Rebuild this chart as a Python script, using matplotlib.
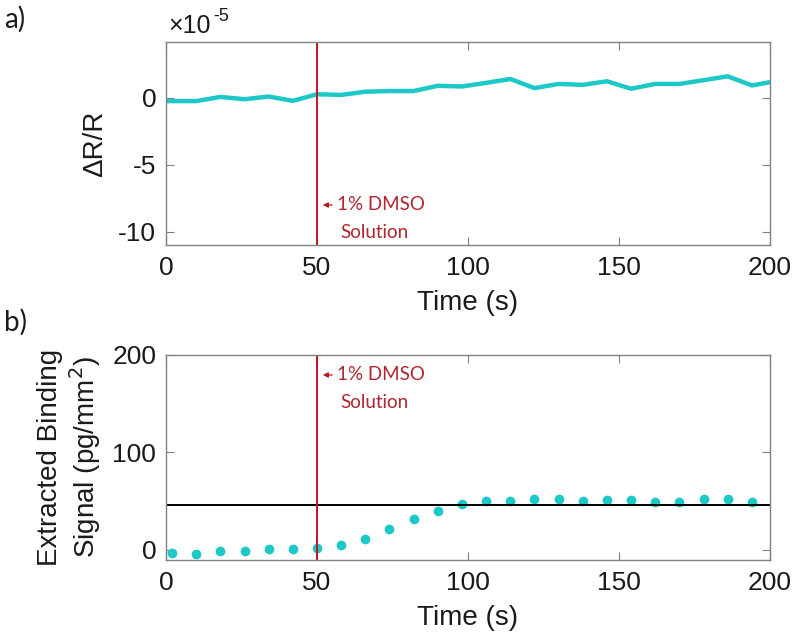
import matplotlib
matplotlib.use("Agg")
import matplotlib.pyplot as plt
from matplotlib.patches import FancyArrowPatch

# ---------------- data ----------------
# panel a: ΔR/R (in units of 1e-5)
time_a = [0, 10, 18, 26, 34, 42, 50, 58, 66, 74, 82, 90, 98, 106, 114, 122,
          130, 138, 146, 154, 162, 170, 178, 186, 194, 200]
dr_r = [-0.26, -0.26, 0.05, -0.12, 0.08, -0.24, 0.25, 0.20, 0.44, 0.49, 0.49,
        0.88, 0.83, 1.10, 1.39, 0.71, 1.02, 0.95, 1.22, 0.66, 1.02, 1.02,
        1.30, 1.59, 0.91, 1.15]

# panel b: extracted binding signal (pg/mm^2)
time_b = [2, 10, 18, 26, 34, 42, 50, 58, 66, 74, 82, 90, 98, 106, 114, 122,
          130, 138, 146, 154, 162, 170, 178, 186, 194]
binding = [-2.7, -3.8, -1.4, -0.7, 0.7, 0.7, 1.7, 5.1, 11.6, 21.2, 31.5, 40.1,
           46.9, 50.0, 50.7, 52.4, 52.7, 50.4, 51.0, 51.0, 49.3, 49.7, 52.1,
           52.4, 49.7]
plateau = 46
injection_time = 50

xticks = [0, 50, 100, 150, 200]
yticks_a = [0, -5, -10]
yticks_b = [0, 100, 200]

# ---------------- style ----------------
W, H = 792, 639
fig = plt.figure(figsize=(W / 100, H / 100), dpi=100)
sans = ["Liberation Sans", "DejaVu Sans"]
cal = ["Lato", "DejaVu Sans"]
cyan = "#1cc9c7"
red_line = "#c0161d"
red_text = "#b0262e"
spine_c = "#808080"
txt_c = "#1a1a1a"

L, R = 166, 770


def setup(ax):
    for s in ax.spines.values():
        s.set_color(spine_c)
        s.set_linewidth(1.0)
    ax.tick_params(direction="in", length=6, width=0.8, color=spine_c,
                   top=True, right=True, labelsize=19, labelcolor=txt_c)
    ax.tick_params(axis="x", pad=8)
    ax.tick_params(axis="y", pad=7)
    ax.set_xlim(0, 200)
    ax.set_xticks(xticks)
    ax.set_xticklabels([str(t) for t in xticks], fontfamily=sans)
    ax.set_xlabel("Time (s)", fontsize=20, fontfamily=sans, labelpad=7,
                  color=txt_c)


# panel a
axa = fig.add_axes([L / W, 1 - 245 / H, (R - L) / W, 203 / H])
axa.plot(time_a, dr_r, color=cyan, lw=3.2, solid_joinstyle="round")
axa.axvline(injection_time, color=red_line, lw=1.4)
axa.set_ylim(-11.0, 4.15)
axa.set_yticks(yticks_a)
axa.set_yticklabels([str(t) for t in yticks_a], fontfamily=sans)
setup(axa)
axa.set_ylabel("ΔR/R", fontsize=20, fontfamily=sans, color=txt_c)
axa.yaxis.set_label_coords((108 - L) / (R - L), 0.5)
# offset (exponent) text
fig.text(168 / W, 1 - 33 / H, "×10", fontsize=18, fontfamily=sans,
         va="baseline", ha="left", color=txt_c)
fig.text(213 / W, 1 - 21 / H, "-5", fontsize=13, fontfamily=sans,
         va="baseline", ha="left", color=txt_c)

# panel b
axb = fig.add_axes([L / W, 1 - 560 / H, (R - L) / W, 205 / H])
axb.plot(time_b, binding, "o", color=cyan, ms=6, mec=cyan)
axb.axhline(plateau, color="black", lw=1.4)
axb.axvline(injection_time, color=red_line, lw=1.4)
axb.set_ylim(-10.3, 200)
axb.set_yticks(yticks_b)
axb.set_yticklabels([str(t) for t in yticks_b], fontfamily=sans)
setup(axb)
axb.set_ylabel("Extracted Binding\nSignal (pg/mm$^2$)", fontsize=20,
               fontfamily=sans, color=txt_c, linespacing=1.15)
axb.yaxis.set_label_coords((103 - L) / (R - L), 0.5)

# annotations
for y1 in (205, 375):
    fig.text(337 / W, 1 - y1 / H, "1% DMSO", fontsize=13.5, fontfamily=cal,
             color=red_text, va="center", ha="left")
    fig.text(340 / W, 1 - (y1 + 27) / H, "Solution", fontsize=13.5,
             fontfamily=cal, color=red_text, va="center", ha="left")
    fig.add_artist(FancyArrowPatch(
        (335 / W, 1 - y1 / H), (320 / W, 1 - y1 / H),
        transform=fig.transFigure,
        arrowstyle="-|>,head_length=3,head_width=1.5",
        color=red_line, lw=0.9))

fig.text(4 / W, 1 - 19 / H, "a)", fontsize=20, fontfamily=cal, va="center",
         ha="left", color=txt_c)
fig.text(4 / W, 1 - 322 / H, "b)", fontsize=20, fontfamily=cal, va="center",
         ha="left", color=txt_c)

fig.savefig("out.png", dpi=100, facecolor="white")
